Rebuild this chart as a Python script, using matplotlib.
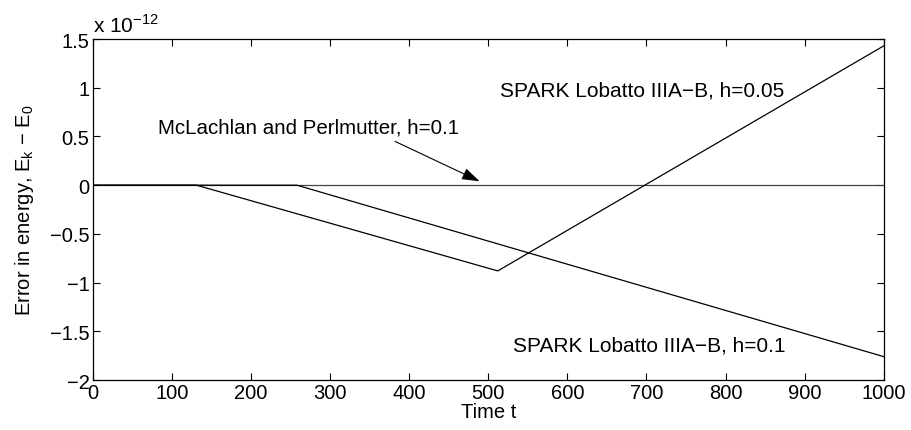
import numpy as np
import matplotlib.pyplot as plt
import matplotlib
matplotlib.rcParams["font.family"] = ["Liberation Sans", "DejaVu Sans"]
matplotlib.rcParams["font.size"] = 14.5

# energy error, in units of 1e-12
t_mcl = [0, 1000]
e_mcl = [0, 0]

t_h01 = [0, 258, 1000]
e_h01 = [0, 0, -1.76]

t_h005 = [0, 131, 512, 1000]
e_h005 = [0, 0, -0.88, 1.43]

xticks = np.arange(0, 1001, 100)
yticks = [-2, -1.5, -1, -0.5, 0, 0.5, 1, 1.5]
ylabels = ["\u22122", "\u22121.5", "\u22121", "\u22120.5", "0", "0.5", "1", "1.5"]

fig = plt.figure(figsize=(9.11, 4.31), dpi=100)
ax = fig.add_axes([0.102, 0.116, 0.868, 0.791])

ax.plot(t_mcl, e_mcl, color="#444444", lw=0.9)
ax.plot(t_h01, e_h01, color="black", lw=0.9)
ax.plot(t_h005, e_h005, color="black", lw=0.9)

ax.set_xlim(0, 1000)
ax.set_ylim(-2, 1.5)
ax.set_xticks(xticks)
ax.set_yticks(yticks)
ax.set_yticklabels(ylabels)
ax.tick_params(direction="in", top=True, right=True, length=5, pad=2.5,
               labelsize=14.5)
for s in ax.spines.values():
    s.set_linewidth(0.9)

ax.set_xlabel("Time t", labelpad=0)
ax.set_ylabel("Error in energy, E$_\\mathregular{k}$ \u2212 E$_\\mathregular{0}$",
              labelpad=10)
# exponent label above the y axis
ax.text(0.0, 1.02, "x 10$^{\\mathregular{\u221212}}$", fontsize=15,
        transform=ax.transAxes, ha="left", va="baseline")

ax.text(515, 0.98, "SPARK Lobatto IIIA\u2212B, h=0.05", va="center", fontsize=15)
ax.text(531, -1.64, "SPARK Lobatto IIIA\u2212B, h=0.1", va="center", fontsize=15)
ax.text(82, 0.6, "McLachlan and Perlmutter, h=0.1", va="center", fontsize=14.8)
ax.annotate("", xy=(489, 0.04), xytext=(382, 0.45),
            arrowprops=dict(arrowstyle="-|>,head_length=0.6,head_width=0.2",
                            color="black", lw=0.8,
                            mutation_scale=18, shrinkA=0, shrinkB=0))

fig.savefig("out.png", dpi=100)
